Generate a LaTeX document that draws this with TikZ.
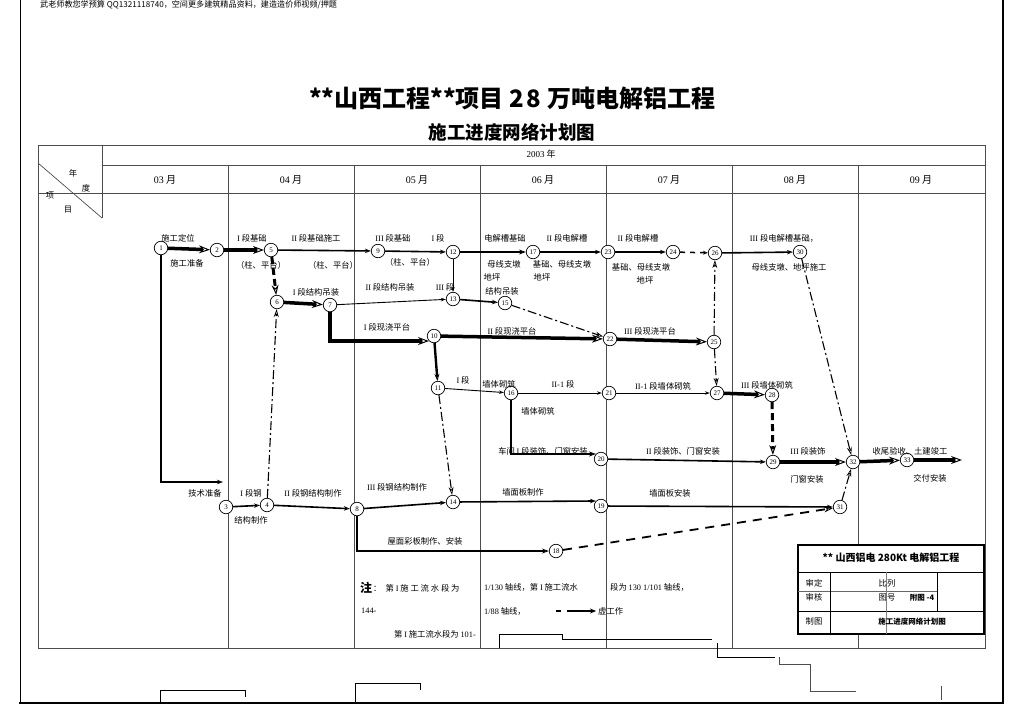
\documentclass[tikz,border=0pt]{standalone}
\usepackage{fontspec}
\setmainfont{Noto Sans CJK SC}
\newfontfamily\lat{Liberation Serif}
\usetikzlibrary{arrows.meta}
\newcommand{\R}[1]{{\lat #1}}
\begin{document}
\begin{tikzpicture}[x=1pt,y=-1pt,
  nd/.style={circle,draw,line width=0.7pt,minimum size=13.5pt,inner sep=0pt,fill=white,font=\lat\fontsize{7}{7}\selectfont},
  lb/.style={inner sep=0pt,font=\fontsize{8.3}{9}\selectfont},
  tbl/.style={draw=black!70,line width=0.7pt},
  thk/.style={line width=3.5pt,-{Stealth[open,length=11pt,width=8pt,line width=1pt]}},
  thkd/.style={line width=3pt,dash pattern=on 7pt off 4pt,-{Stealth[open,length=10pt,width=7pt,line width=1pt]}},
  med/.style={line width=1.6pt,-{Stealth[open,length=6pt,width=4.5pt,line width=0.7pt]}},
  medt/.style={line width=2.4pt,-{Stealth[open,length=7pt,width=5pt,line width=0.8pt]}},
  thn/.style={line width=0.9pt,-{Stealth[open,length=5pt,width=3.5pt,line width=0.6pt]}},
  vir/.style={line width=1.1pt,dash pattern=on 9pt off 3pt on 2pt off 3pt,-{Stealth[open,length=8pt,width=5pt,line width=0.7pt]}},
  dsh/.style={line width=1.5pt,dash pattern=on 5pt off 5pt,-{Stealth[open,length=5pt,width=4pt,line width=0.6pt]}},
  dshl/.style={line width=1.8pt,dash pattern=on 9pt off 7pt,-{Stealth[open,length=9pt,width=6pt,line width=0.8pt]}}
]
\useasboundingbox (0,0) rectangle (1024,724);
\fill[white] (0,0) rectangle (1024,724);

% outer frame
\draw[line width=0.8pt] (20,0) -- (20,703);
\draw[line width=2pt] (19,703) -- (1004,703);
\draw[line width=1.6pt] (1003,0) -- (1003,704);

\node[anchor=west,inner sep=0pt,font=\fontsize{8.1}{9}\selectfont] (top) at (40,5) {武老师教您学预算 QQ1321118740，空间更多建筑精品资料，建造造价师视频/押题};

% titles
\node[font=\bfseries\fontsize{24}{26}\selectfont] (title) at (512,98) {**山西工程**项目 2\hspace{3pt}8 万吨电解铝工程};
\node[font=\bfseries\fontsize{18.5}{20}\selectfont] (subtitle) at (512,132) {施工进度网络计划图};

% table
\draw[tbl] (38,145) rectangle (985,648);
\draw[tbl] (102,165) -- (985,165);
\draw[tbl] (38,193) -- (985,193);
\draw[tbl] (102,145) -- (102,218);
\draw[tbl] (38,163) -- (102,218);
\foreach \xx in {228,354,480,606,732,858} {\draw[tbl] (\xx,165) -- (\xx,648);}
\node[lb] (hy) at (73,173) {年};
\node[lb] (hd) at (86,188) {度};
\node[lb] (hx) at (50,196) {项};
\node[lb] (hm) at (68,210) {目};
\node[lb,font=\fontsize{9}{10}\selectfont] (year) at (541,154) {\R{2003} 年};
\foreach \xx/\mm in {165/03,291/04,417/05,543/06,669/07,795/08,921/09}
  {\node[lb,font=\fontsize{10}{11}\selectfont] at (\xx,180) {\R{\mm} 月};}

% nodes
\node[nd] (n1) at (161,248) {1};
\node[nd] (n2) at (217,250) {2};
\node[nd] (n5) at (271,250) {5};
\node[nd] (n9) at (378,251) {9};
\node[nd] (n12) at (453,252) {12};
\node[nd] (n17) at (533,252) {17};
\node[nd] (n23) at (608,252) {23};
\node[nd] (n24) at (673,252) {24};
\node[nd] (n26) at (715,253) {26};
\node[nd] (n30) at (800,252) {30};
\node[nd] (n6) at (277,302) {6};
\node[nd] (n7) at (330,305) {7};
\node[nd] (n13) at (453,299) {13};
\node[nd] (n15) at (505,303) {15};
\node[nd] (n10) at (434,336) {10};
\node[nd] (n22) at (610,339) {22};
\node[nd] (n25) at (714,342) {25};
\node[nd] (n11) at (438,388) {11};
\node[nd] (n16) at (511,393) {16};
\node[nd] (n21) at (609,393) {21};
\node[nd] (n27) at (717,393) {27};
\node[nd] (n28) at (772,395) {28};
\node[nd] (n20) at (601,459) {20};
\node[nd] (n29) at (773,462) {29};
\node[nd] (n32) at (853,462) {32};
\node[nd] (n33) at (907,460) {33};
\node[nd] (n3) at (226,507) {3};
\node[nd] (n4) at (267,505) {4};
\node[nd] (n8) at (357,509) {8};
\node[nd] (n14) at (453,502) {14};
\node[nd] (n19) at (601,506) {19};
\node[nd] (n31) at (840,507) {31};
\node[nd] (n18) at (556,551) {18};
\coordinate (e1) at (223,482);
\coordinate (e33) at (962,460);

% connectors
\draw[thk] (n1) -- (n2);
\draw[thk] (n2) -- (n5);
\draw[thkd] (n5) -- (n6);
\draw[med] (n5) -- (n9);
\draw[med] (n9) -- (n12);
\draw[medt] (n12) -- (n17);
\draw[med] (n17) -- (n23);
\draw[med] (n23) -- (n24);
\draw[dsh] (n24) -- (n26);
\draw[med] (n26) -- (n30);
\draw[vir] (n30) -- (n32);
\draw[thn] (n12) -- (n13);
\draw[thk] (n6) -- (n7);
\draw[thn] (n7) -- (n13);
\draw[med] (n13) -- (n15);
\draw[vir] (n15) -- (n22);
\draw[thk] (n7) |- (n10.south west);
\draw[thk] (n10) -- (n22);
\draw[thk] (n22) -- (n25);
\draw[vir] (n25) -- (n26);
\draw[vir] (n25) -- (n27);
\draw[medt] (n10) -- (n11);
\draw[thn] (n11) -- (n16);
\draw[vir] (n11) -- (n14);
\draw[thn] (n16) -- (n21);
\draw[thn] (n21) -- (n27);
\draw[thk] (n27) -- (n28);
\draw[thkd] (n28) -- (n29);
\draw[medt] (n16) |- (n20.north west);
\draw[med] (n20) -- (n29);
\draw[thk] (n29) -- (n32);
\draw[thk] (n32) -- (n33);
\draw[thk] (n33) -- (e33);
\draw[med] (n1) |- (e1);
\draw[med] (n3) -- (n4);
\draw[vir] (n4) -- (n6);
\draw[med] (n4) -- (n8);
\draw[med] (n8) -- (n14);
\draw[medt] (n8) |- (n18);
\draw[med] (n14) -- (n19.north west);
\draw[med] (n19) -- (n31);
\draw[dshl] (n18) -- (n31);
\draw[vir] (n31) -- (n32);

% labels
\node[lb] at (178,238) {施工定位};
\node[lb] at (187,263) {施工准备};
\node[lb] at (252,238) {\R{I} 段基础};
\node[lb] at (316,238) {\R{II} 段基础施工};
\node[lb] at (261,265) {（柱、平台）};
\node[lb] at (333,265) {（柱、平台）};
\node[lb] at (393,238) {\R{III} 段基础};
\node[lb] at (438,238) {\R{I} 段};
\node[lb] at (410,262) {（柱、平台）};
\node[lb] at (390,287) {\R{II} 段结构吊装};
\node[lb] at (445,287) {\R{III} 段};
\node[lb] at (316,292) {\R{I} 段结构吊装};
\node[lb] at (505,238) {电解槽基础};
\node[lb] at (567,238) {\R{II} 段电解槽};
\node[lb] at (504,264) {母线支墩};
\node[lb] at (562,264) {基础、母线支墩};
\node[lb] at (492,277) {地坪};
\node[lb] at (542,277) {地坪};
\node[lb] at (502,291) {结构吊装};
\node[lb] at (638,238) {\R{II} 段电解槽};
\node[lb] at (641,267) {基础、母线支墩};
\node[lb] at (645,280) {地坪};
\node[lb] at (784,238) {\R{III} 段电解槽基础，};
\node[lb] at (789,267) {母线支墩、地坪施工};
\node[lb] at (387,327) {\R{I} 段现浇平台};
\node[lb] at (512,331) {\R{II} 段现浇平台};
\node[lb] at (650,331) {\R{III} 段现浇平台};
\node[lb] at (463,380) {\R{I} 段};
\node[lb] at (499,384) {墙体砌筑};
\node[lb] at (563,384) {\R{II-1} 段};
\node[lb] at (538,411) {墙体砌筑};
\node[lb] at (663,386) {\R{II-1} 段墙体砌筑};
\node[lb] at (767,385) {\R{III} 段墙体砌筑};
\node[lb] at (543,451) {车间 \R{I} 段装饰、门窗安装};
\node[lb] at (683,451) {\R{II} 段装饰、门窗安装};
\node[lb] at (808,451) {\R{III} 段装饰};
\node[lb] at (807,479) {门窗安装};
\node[lb] at (910,451) {收尾验收、土建竣工};
\node[lb] at (930,478) {交付安装};
\node[lb] at (205,493) {技术准备};
\node[lb] at (251,493) {\R{I} 段钢};
\node[lb] at (251,520) {结构制作};
\node[lb] at (313,493) {\R{II} 段钢结构制作};
\node[lb] at (397,487) {\R{III} 段钢结构制作};
\node[lb] at (425,541) {屋面彩板制作、安装};
\node[lb] at (523,492) {墙面板制作};
\node[lb] at (670,493) {墙面板安装};

% notes
\node[inner sep=0pt,font=\bfseries\fontsize{12}{12}\selectfont] (zhu) at (366,588) {注};
\node[lb,anchor=west] at (373,588) {：\enspace 第 \R{I} 施 工 流 水 段 为};
\node[lb,anchor=west] at (361,611) {\R{144-}};
\node[lb,anchor=east] at (476,634) {第 \R{I} 施工流水段为 \R{101-}};
\node[lb,anchor=west] at (484,587) {\R{1/130} 轴线，第 \R{I} 施工流水};
\node[lb,anchor=west] at (484,611) {\R{1/88} 轴线，};
\node[lb,anchor=west] at (610,587) {段为 \R{130 1/101} 轴线，};
\coordinate (lg1) at (556,611);
\coordinate (lg2) at (596,611);
\draw[line width=2pt,dash pattern=on 5pt off 6pt on 40pt off 0pt,-{Stealth[length=6pt,width=5pt]}] (lg1) -- (lg2);
\node[lb,anchor=west] at (598,611) {虚工作};

% stray lines at bottom
\draw[line width=0.8pt] (499,648) -- (499,634) -- (562,634) -- (562,639) -- (712,639);
\draw[line width=0.8pt] (717,643) -- (717,657) -- (775,657);
\draw[line width=0.8pt,draw=black!70] (779,657) -- (779,664) -- (810,664) -- (810,691) -- (856,691);
\draw[line width=0.8pt,draw=black!70] (941,686) -- (941,700);
\draw[line width=0.8pt] (160,703) -- (160,690) -- (245,690) -- (245,697);
\draw[line width=0.8pt] (355,703) -- (355,683) -- (420,683) -- (420,690);

% title block
\fill[white] (798,545) rectangle (984,634);
\draw[line width=1.2pt] (798,545) rectangle (984,634);
\draw[line width=0.6pt] (798,572) -- (984,572);
\draw[line width=0.5pt,draw=black!60] (798,591) -- (937,591);
\draw[line width=0.6pt] (798,611) -- (984,611);
\draw[line width=0.6pt] (830,572) -- (830,634);
\draw[line width=0.5pt,draw=black!50] (886,572) -- (886,634);
\draw[line width=0.7pt] (937,572) -- (937,611);
\node[inner sep=0pt,font=\bfseries\fontsize{10}{11}\selectfont] (tb) at (891,558) {** 山西铝电 280Kt 电解铝工程};
\node[lb] at (814,583) {审定};
\node[lb] at (814,597) {审核};
\node[lb] at (814,621) {制图};
\node[lb] at (887,583) {比列};
\node[lb] at (887,598) {图号};
\node[lb,font=\bfseries\fontsize{7.5}{8}\selectfont] at (922,598) {附图 -4};
\node[lb,font=\bfseries\fontsize{7.5}{8}\selectfont] at (912,622) {施工进度网络计划图};
\end{tikzpicture}
\end{document}
